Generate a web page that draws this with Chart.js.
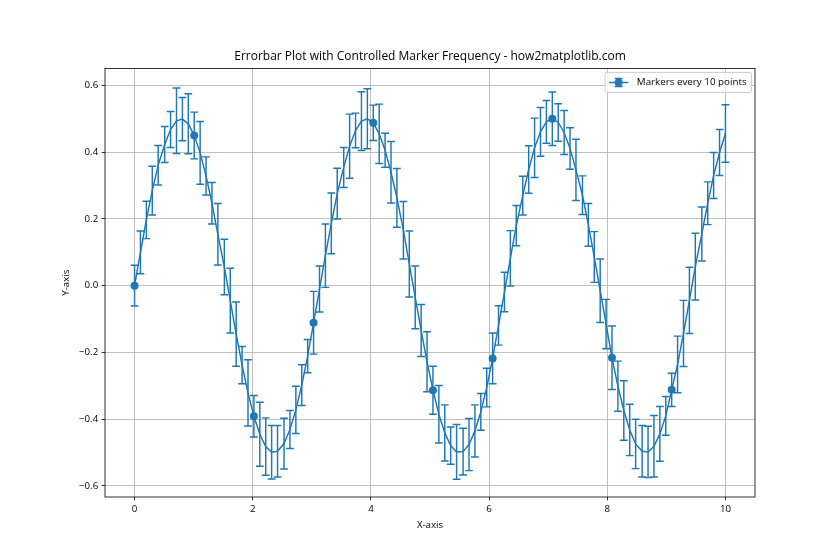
<!DOCTYPE html>
<html>
<head>
<meta charset="utf-8">
<script src="https://cdn.jsdelivr.net/npm/chart.js@4.4.1/dist/chart.umd.min.js"></script>
<style>
  body { margin: 0; background: #fff; }
  canvas { display: block; }
</style>
</head>
<body>
<canvas id="chart" width="840" height="560"></canvas>
<script>
// values
const xValues = [0, 0.10, 0.20, 0.30, 0.40, 0.51, 0.61, 0.71, 0.81, 0.91,
  1.01, 1.11, 1.21, 1.31, 1.41, 1.52, 1.62, 1.72, 1.82, 1.92,
  2.02, 2.12, 2.22, 2.32, 2.42, 2.53, 2.63, 2.73, 2.83, 2.93,
  3.03, 3.13, 3.23, 3.33, 3.43, 3.54, 3.64, 3.74, 3.84, 3.94,
  4.04, 4.14, 4.24, 4.34, 4.44, 4.55, 4.65, 4.75, 4.85, 4.95,
  5.05, 5.15, 5.25, 5.35, 5.45, 5.56, 5.66, 5.76, 5.86, 5.96,
  6.06, 6.16, 6.26, 6.36, 6.46, 6.57, 6.67, 6.77, 6.87, 6.97,
  7.07, 7.17, 7.27, 7.37, 7.47, 7.58, 7.68, 7.78, 7.88, 7.98,
  8.08, 8.18, 8.28, 8.38, 8.48, 8.59, 8.69, 8.79, 8.89, 8.99,
  9.09, 9.19, 9.29, 9.39, 9.49, 9.60, 9.70, 9.80, 9.90, 10];

const yValues = [0, 0.100, 0.197, 0.285, 0.361, 0.423, 0.468, 0.494, 0.499, 0.485,
  0.450, 0.398, 0.329, 0.247, 0.154, 0.056, -0.045, -0.145, -0.238, -0.321,
  -0.391, -0.445, -0.482, -0.499, -0.496, -0.473, -0.431, -0.372, -0.298, -0.211,
  -0.111, -0.010, 0.090, 0.187, 0.276, 0.354, 0.418, 0.465, 0.493, 0.500,
  0.488, 0.455, 0.406, 0.340, 0.263, 0.166, 0.065, -0.035, -0.134, -0.228,
  -0.313, -0.385, -0.441, -0.479, -0.498, -0.497, -0.476, -0.435, -0.378, -0.305,
  -0.218, -0.119, -0.019, 0.082, 0.180, 0.270, 0.348, 0.413, 0.461, 0.491,
  0.500, 0.489, 0.459, 0.411, 0.347, 0.271, 0.182, 0.086, -0.015, -0.115,
  -0.216, -0.301, -0.374, -0.432, -0.474, -0.496, -0.498, -0.481, -0.444, -0.390,
  -0.312, -0.236, -0.143, -0.044, 0.057, 0.155, 0.247, 0.330, 0.399, 0.456];

const yErrors = [0.061, 0.064, 0.056, 0.073, 0.059, 0.054, 0.054, 0.098, 0.065, 0.090,
  0.070, 0.094, 0.057, 0.062, 0.092, 0.083, 0.097, 0.096, 0.056, 0.099,
  0.062, 0.096, 0.086, 0.080, 0.077, 0.076, 0.057, 0.071, 0.061, 0.050,
  0.094, 0.069, 0.095, 0.091, 0.076, 0.060, 0.096, 0.052, 0.088, 0.090,
  0.053, 0.089, 0.051, 0.092, 0.088, 0.086, 0.099, 0.094, 0.078, 0.090,
  0.072, 0.086, 0.084, 0.056, 0.082, 0.070, 0.078, 0.078, 0.055, 0.058,
  0.076, 0.059, 0.059, 0.083, 0.060, 0.058, 0.071, 0.089, 0.073, 0.064,
  0.080, 0.056, 0.066, 0.062, 0.092, 0.058, 0.064, 0.076, 0.095, 0.074,
  0.095, 0.075, 0.089, 0.077, 0.074, 0.077, 0.077, 0.092, 0.082, 0.058,
  0.050, 0.085, 0.099, 0.099, 0.100, 0.081, 0.064, 0.069, 0.069, 0.086];

const xTicks = [0, 2, 4, 6, 8, 10];
const yTicks = [-0.6, -0.4, -0.2, 0, 0.2, 0.4, 0.6];
const markerEvery = 10;
const seriesLabel = 'Markers every 10 points';

const blue = '#1f77b4';
const fontFamily = "'Open Sans', 'Noto Sans', sans-serif";
const capHalf = 3.9;

Chart.defaults.font.family = fontFamily;
Chart.defaults.color = '#000';

// vertical error bars with caps, under the line
const errorBarPlugin = {
  id: 'errorBars',
  beforeDatasetsDraw(chart) {
    const { ctx } = chart;
    const xs = chart.scales.x, ys = chart.scales.y;
    ctx.save();
    ctx.strokeStyle = blue;
    ctx.lineWidth = 1.46;
    ctx.beginPath();
    xValues.forEach((x, i) => {
      const px = xs.getPixelForValue(x);
      const top = ys.getPixelForValue(yValues[i] + yErrors[i]);
      const bot = ys.getPixelForValue(yValues[i] - yErrors[i]);
      ctx.moveTo(px, top); ctx.lineTo(px, bot);
      ctx.moveTo(px - capHalf, top); ctx.lineTo(px + capHalf, top);
      ctx.moveTo(px - capHalf, bot); ctx.lineTo(px + capHalf, bot);
    });
    ctx.stroke();
    ctx.restore();
  }
};

// axes frame and a matplotlib-like legend box
const frameLegendPlugin = {
  id: 'frameLegend',
  afterDatasetsDraw(chart) {
    const { ctx, chartArea: a } = chart;
    ctx.save();
    ctx.strokeStyle = '#000';
    ctx.lineWidth = 0.8;
    ctx.strokeRect(a.left, a.top, a.right - a.left, a.bottom - a.top);

    const fs = 9.8;
    ctx.font = fs + 'px ' + fontFamily;
    const label = chart.data.datasets[0].label;
    const textW = ctx.measureText(label).width;
    const pad = 3.9, handleLen = 19.4, textPad = 8.5;
    const w = pad + handleLen + textPad + textW + pad + 1;
    const h = 20;
    const right = a.right - 3.5, top = a.top + 4;
    const left = right - w;

    ctx.beginPath();
    ctx.roundRect(left, top, w, h, 2);
    ctx.fillStyle = 'rgba(255,255,255,0.8)';
    ctx.fill();
    ctx.strokeStyle = '#cccccc';
    ctx.lineWidth = 1;
    ctx.stroke();

    const cy = top + h / 2;
    const hx0 = left + pad, hx1 = hx0 + handleLen, hcx = (hx0 + hx1) / 2;
    ctx.strokeStyle = blue;
    ctx.lineWidth = 1.46;
    ctx.beginPath();
    ctx.moveTo(hx0, cy); ctx.lineTo(hx1, cy);
    ctx.moveTo(hcx, cy - 4); ctx.lineTo(hcx, cy + 4);
    ctx.moveTo(hcx - capHalf, cy - 4); ctx.lineTo(hcx + capHalf, cy - 4);
    ctx.moveTo(hcx - capHalf, cy + 4); ctx.lineTo(hcx + capHalf, cy + 4);
    ctx.stroke();
    ctx.fillStyle = blue;
    ctx.beginPath();
    ctx.arc(hcx, cy, 4, 0, Math.PI * 2);
    ctx.fill();

    ctx.fillStyle = '#000';
    ctx.textBaseline = 'middle';
    ctx.fillText(label, hx1 + textPad, cy);
    ctx.restore();
  }
};

const points = xValues.map((x, i) => ({ x: x, y: yValues[i] }));

new Chart(document.getElementById('chart'), {
  type: 'line',
  data: {
    datasets: [{
      label: seriesLabel,
      data: points,
      borderColor: blue,
      borderWidth: 1.46,
      backgroundColor: blue,
      pointRadius: ctx => (ctx.dataIndex % markerEvery === 0 ? 4 : 0),
      pointBackgroundColor: blue,
      pointBorderWidth: 0,
      pointHoverRadius: 0,
      tension: 0,
      fill: false
    }]
  },
  options: {
    responsive: false,
    animation: false,
    devicePixelRatio: 1,
    layout: { padding: { top: 49, right: 85, bottom: 25, left: 56 } },
    plugins: {
      legend: { display: false },
      tooltip: { enabled: false },
      title: {
        display: true,
        fullSize: false,
        text: 'Errorbar Plot with Controlled Marker Frequency - how2matplotlib.com',
        color: '#000',
        font: { size: 12, weight: 'normal', lineHeight: 1.2 },
        padding: { top: 0, bottom: 5 }
      }
    },
    scales: {
      x: {
        type: 'linear',
        min: -0.5,
        max: 10.5,
        afterBuildTicks: s => { s.ticks = xTicks.map(v => ({ value: v })); },
        afterFit: s => { s.height = 38; },
        ticks: { font: { size: 9.7 }, padding: 3.4, maxRotation: 0, callback: v => String(v) },
        grid: { color: '#b0b0b0', lineWidth: 0.8, tickLength: 3.4, tickColor: '#000', tickWidth: 0.8 },
        border: { display: false },
        title: { display: true, text: 'X-axis', font: { size: 9.7 }, padding: { top: 4, bottom: 4 } }
      },
      y: {
        type: 'linear',
        min: -0.633,
        max: 0.651,
        afterBuildTicks: s => { s.ticks = yTicks.map(v => ({ value: v })); },
        afterFit: s => { s.width = 49; },
        ticks: { font: { size: 9.7 }, padding: 3.4, callback: v => v.toFixed(1).replace('-', '\u2212') },
        grid: { color: '#b0b0b0', lineWidth: 0.8, tickLength: 3.4, tickColor: '#000', tickWidth: 0.8 },
        border: { display: false },
        title: { display: true, text: 'Y-axis', font: { size: 9.7 }, padding: { top: 4, bottom: 4 } }
      }
    }
  },
  plugins: [errorBarPlugin, frameLegendPlugin]
});
</script>
</body>
</html>
